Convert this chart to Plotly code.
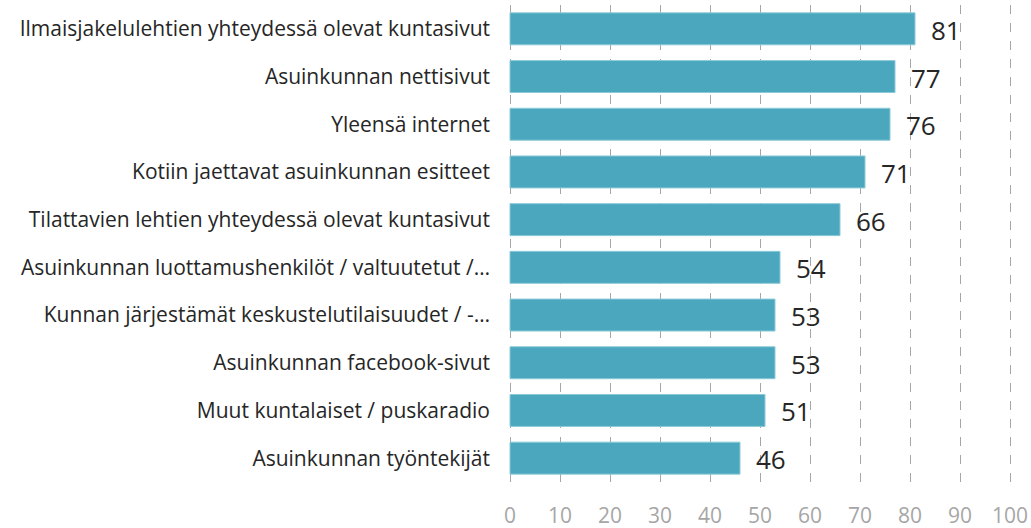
import plotly.graph_objects as go

categories = [
    "Ilmaisjakelulehtien yhteydessä olevat kuntasivut",
    "Asuinkunnan nettisivut",
    "Yleensä internet",
    "Kotiin jaettavat asuinkunnan esitteet",
    "Tilattavien lehtien yhteydessä olevat kuntasivut",
    "Asuinkunnan luottamushenkilöt / valtuutetut /…",
    "Kunnan järjestämät keskustelutilaisuudet / -…",
    "Asuinkunnan facebook-sivut",
    "Muut kuntalaiset / puskaradio",
    "Asuinkunnan työntekijät",
]
values = [81, 77, 76, 71, 66, 54, 53, 53, 51, 46]
tick_values = [0, 10, 20, 30, 40, 50, 60, 70, 80, 90, 100]

FONT = "Open Sans"
fig = go.Figure()
fig.add_trace(go.Bar(
    x=values, y=categories, orientation="h",
    marker=dict(color="#4BA7BE", line=dict(color="#8CCAD8", width=1)),
    width=0.67,
    hoverinfo="skip",
))
for c, v in zip(categories, values):
    fig.add_annotation(x=v, y=c, xref="x", yref="y", text=str(v),
                       showarrow=False, xanchor="left", xshift=14, yshift=-1,
                       font=dict(family=FONT, size=26, color="#262626"))

fig.update_layout(
    width=1031, height=528,
    margin=dict(l=508, r=19, t=5, b=46, autoexpand=False),
    plot_bgcolor="white", paper_bgcolor="white",
    showlegend=False,
    font=dict(family=FONT),
)
fig.update_xaxes(range=[-0.4, 100.4], tickvals=tick_values, automargin=False,
                 showgrid=True, gridcolor="#A6A6A6", griddash="dash", gridwidth=1,
                 zeroline=False, showline=False,
                 tickfont=dict(family=FONT, size=21, color="#A6A6A6"),
                 ticklabelstandoff=19)
fig.update_yaxes(autorange="reversed", showgrid=False, zeroline=False, automargin=False,
                 tickfont=dict(family=FONT, size=21, color="#262626"),
                 ticklabelstandoff=17)

fig.write_html("out.html", config={"displayModeBar": False},
               post_script="document.body.style.margin='0';")
